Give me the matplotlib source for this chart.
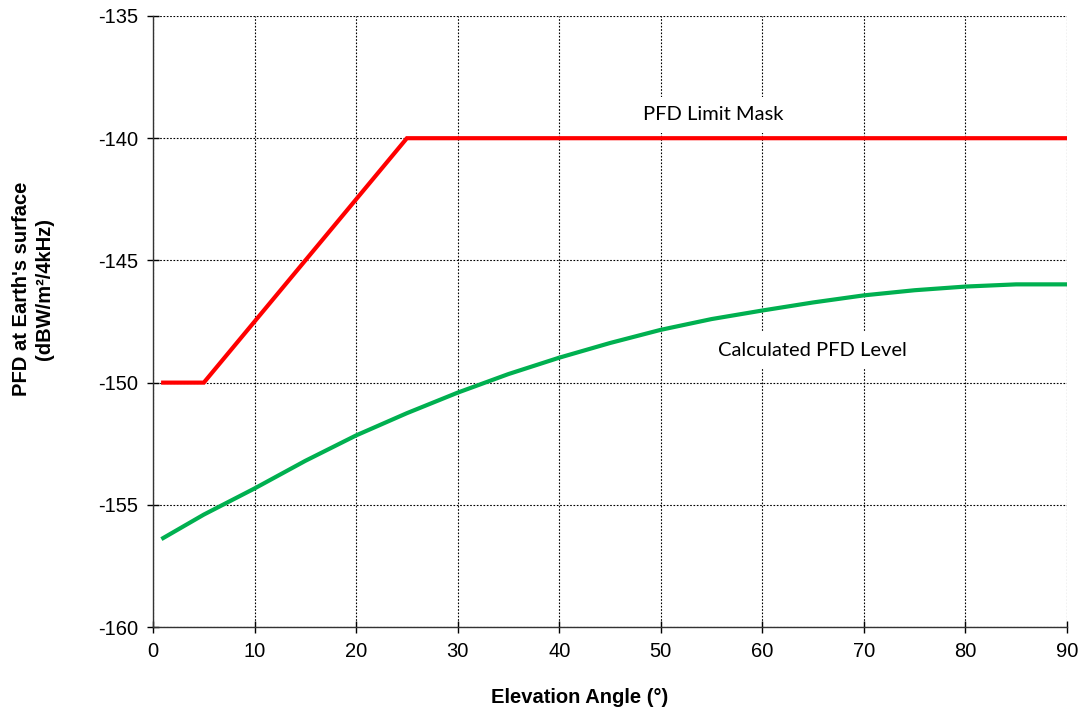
import matplotlib
matplotlib.use("Agg")
from matplotlib import pyplot as plt

# elevation angle (deg) and PFD values (dBW/m2/4kHz)
mask_angle = [1, 5, 25, 90]
mask_pfd = [-150, -150, -140, -140]

calc_angle = [1, 5, 10, 15, 20, 25, 30, 35, 40, 45, 50, 55, 60, 65, 70, 75, 80, 85, 90]
calc_pfd = [-156.36, -155.4, -154.33, -153.2, -152.16, -151.25, -150.41, -149.65,
            -148.98, -148.38, -147.84, -147.4, -147.05, -146.72, -146.43, -146.22,
            -146.07, -145.98, -145.98]

xticks = list(range(0, 91, 10))
yticks = [-160, -155, -150, -145, -140, -135]

plt.rcParams['font.family'] = ['Liberation Sans', 'DejaVu Sans']
plt.rcParams['axes.unicode_minus'] = False

fig = plt.figure(figsize=(10.83, 7.11), dpi=100)
ax = fig.add_axes([0.1413, 0.1181, 0.8439, 0.8594])

ax.plot(mask_angle, mask_pfd, color="#FF0000", lw=3.0, solid_joinstyle='miter', zorder=3)
ax.plot(calc_angle, calc_pfd, color="#00B050", lw=3.0, zorder=3)

ax.set_xlim(0, 90)
ax.set_ylim(-160, -135)
ax.set_xticks(xticks)
ax.set_yticks(yticks)
ax.tick_params(direction='inout', length=9, width=1, labelsize=14.5, pad=6)
ax.grid(True, color='black', linestyle=(0, (1.5, 1.5)), linewidth=0.8)

for s in ['top', 'right']:
    ax.spines[s].set_visible(False)
for s in ['left', 'bottom']:
    ax.spines[s].set_linewidth(1.0)
    ax.spines[s].set_color('#333333')

ax.set_xlabel("Elevation Angle (°)", fontsize=14.5, fontweight='bold')
ax.xaxis.set_label_coords(0.467, -0.1)
ax.set_ylabel("PFD at Earth's surface\n(dBW/m²/4kHz)", fontsize=14.5, fontweight='bold',
              linespacing=1.3)
ax.yaxis.set_label_coords(-0.108, 0.553)

box = dict(facecolor='white', edgecolor='none', pad=7)
ax.text(55.2, -139.05, "PFD Limit Mask", fontsize=14.5, family=['Lato', 'DejaVu Sans'],
        ha='center', va='center', bbox=box, zorder=4)
ax.text(64.9, -148.67, "Calculated PFD Level", fontsize=14.5, family=['Lato', 'DejaVu Sans'],
        ha='center', va='center', bbox=box, zorder=4)

fig.savefig("out.png", dpi=100)
